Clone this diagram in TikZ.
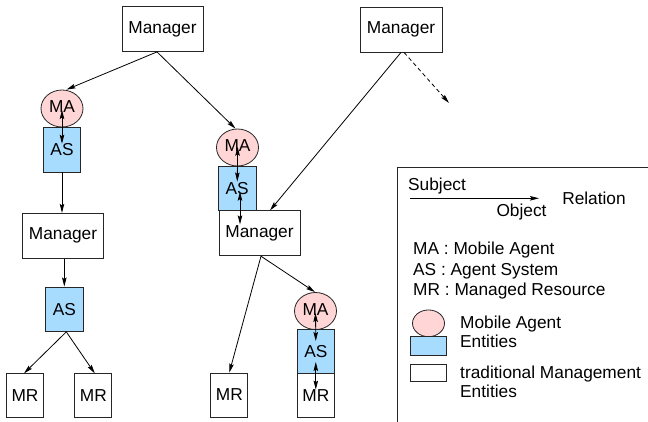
\documentclass[tikz,border=0pt]{standalone}
\usepackage{fontspec}
\setmainfont{Liberation Sans}
\usetikzlibrary{arrows.meta,shapes.geometric}
\definecolor{maPink}{RGB}{255,213,213}
\definecolor{asBlue}{RGB}{168,220,255}
\begin{document}
\begin{tikzpicture}[x=1pt,y=-1pt,
  every node/.style={font=\fontsize{17.3}{20}\selectfont, inner sep=0pt},
  ent/.style={draw=black!85, line width=0.8pt, rectangle, fill=white},
  mgr/.style={ent, minimum width=81pt, minimum height=45pt},
  mrbox/.style={ent, minimum width=37pt, minimum height=44pt},
  asbox/.style={ent, fill=asBlue, minimum width=37.5pt, minimum height=44.5pt},
  mabub/.style={draw=black!85, line width=0.8pt, ellipse, fill=maPink, minimum width=42pt, minimum height=37pt},
  conn/.style={line width=0.8pt, -{Stealth[length=9pt,width=4.5pt,inset=1.5pt]}},
  dconn/.style={line width=0.8pt, {Stealth[length=9pt,width=4.5pt,inset=1.5pt]}-{Stealth[length=9pt,width=4.5pt,inset=1.5pt]}},
  txt/.style={align=left, anchor=west}
]
\useasboundingbox (0,0) rectangle (648,421);

% managers
\node[mgr] (topM) at (162.5,29) {Manager};
\node[mgr, minimum width=82pt] (rMan) at (401,29.5) {Manager};

% left column
\node[mabub] (lMA) at (62,108.5) {\raisebox{3pt}{MA}};
\node[asbox] (lAS) at (62,149.7) {AS};
\node[mgr] (lMan) at (63,235.8) {Manager};
\node[asbox] (lAS2) at (64.3,309.2) {AS};
\node[mrbox] (mr1) at (25,395.8) {\raisebox{-6pt}{MR}};
\node[mrbox] (mr2) at (93.3,395.8) {\raisebox{-6pt}{MR}};

% middle column
\node[mabub] (mMA) at (237.5,147.5) {\raisebox{3pt}{MA}};
\node[asbox] (mAS) at (237.2,188.2) {AS};
\node[mgr] (mMan) at (259.5,233.3) {\raisebox{-2pt}{Manager}};
\node[mrbox] (mMR) at (229.3,395) {\raisebox{-6pt}{MR}};

% right column
\node[mabub] (rMA) at (315.5,311) {\raisebox{3pt}{MA}};
\node[asbox] (rAS) at (315.8,351.2) {AS};
\node[mrbox] (rMR) at (315.8,395.3) {\raisebox{-6pt}{MR}};

% connectors
\draw[conn] ([xshift=-5.5pt]topM.south) -- ([xshift=4.5pt]lMA.north);
\draw[conn] ([xshift=-5.5pt]topM.south) -- ([xshift=-2pt]mMA.north);
\draw[conn] (lAS.south) -- (lAS.south |- lMan.north);
\draw[conn] (lAS2.north |- lMan.south) -- (lAS2.north);
\draw[conn] ([xshift=2pt]lAS2.south) -- ([xshift=-1pt]mr1.north);
\draw[conn] ([xshift=2pt]lAS2.south) -- ([xshift=1.5pt]mr2.north);
\draw[conn] (rMan.south) -- ([xshift=10.5pt]mMan.north);
\coordinate (dashEnd) at (449,103);
\draw[conn, dashed, dash pattern=on 4pt off 3pt] ([xshift=3pt]rMan.south) -- (dashEnd);
\draw[conn] ([xshift=1.5pt]mMan.south) -- (mMR.north);
\draw[conn] ([xshift=1.5pt]mMan.south) -- ([xshift=-0.5pt]rMA.north);

% double arrows
\coordinate (mASMan) at ([xshift=2.8pt]mAS.center |- mMan.north);
\draw[dconn] ([yshift=-1.5pt]lMA.center) -- ([yshift=-16.7pt]lAS.north);
\draw[dconn] ([yshift=0.8pt,xshift=0.1pt]mMA.center) -- ([yshift=-16pt,xshift=0.1pt]mAS.north);
\draw[dconn] ([yshift=-3.5pt,xshift=2.8pt]mAS.center) -- ([yshift=-14pt]mASMan);
\draw[dconn] ([yshift=-2pt]rMA.center) -- ([yshift=-12.5pt]rAS.north);
\draw[dconn] ([yshift=-10.8pt]rAS.center) -- ([yshift=-16.7pt]rMR.north);

% legend frame
\draw[line width=0.8pt, black!85] (397,425) -- (397,167) -- (652,167);
\node (subj) at (437,186) {Subject};
\coordinate (relL) at (410,198.3);
\coordinate (relR) at (539,198.3);
\draw[conn] (relL) -- (relR);
\node (obj) at (521.5,212) {Object};
\node (rel) at (594,198) {Relation};
\node[txt, anchor=north west, font=\fontsize{17.3}{20.5}\selectfont] (abbr) at (413,242) {MA : Mobile Agent\\AS : Agent System\\MR : Managed Resource};
\node[draw=black!85, line width=0.8pt, ellipse, fill=maPink, minimum width=32pt, minimum height=26.7pt] (legMA) at (428.5,323.3) {};
\node[ent, fill=asBlue, minimum width=36.7pt, minimum height=19pt] (legAS) at (428.3,346.2) {};
\node[ent, minimum width=36.7pt, minimum height=17.7pt] (legTM) at (428.3,372.8) {};
\node[txt, anchor=north west, font=\fontsize{17.3}{19}\selectfont] (legMAt) at (460,315.5) {Mobile Agent\\Entities};
\node[txt, anchor=north west, font=\fontsize{17.3}{18.5}\selectfont] (legTMt) at (460,366) {traditional Management\\Entities};
\end{tikzpicture}
\end{document}
